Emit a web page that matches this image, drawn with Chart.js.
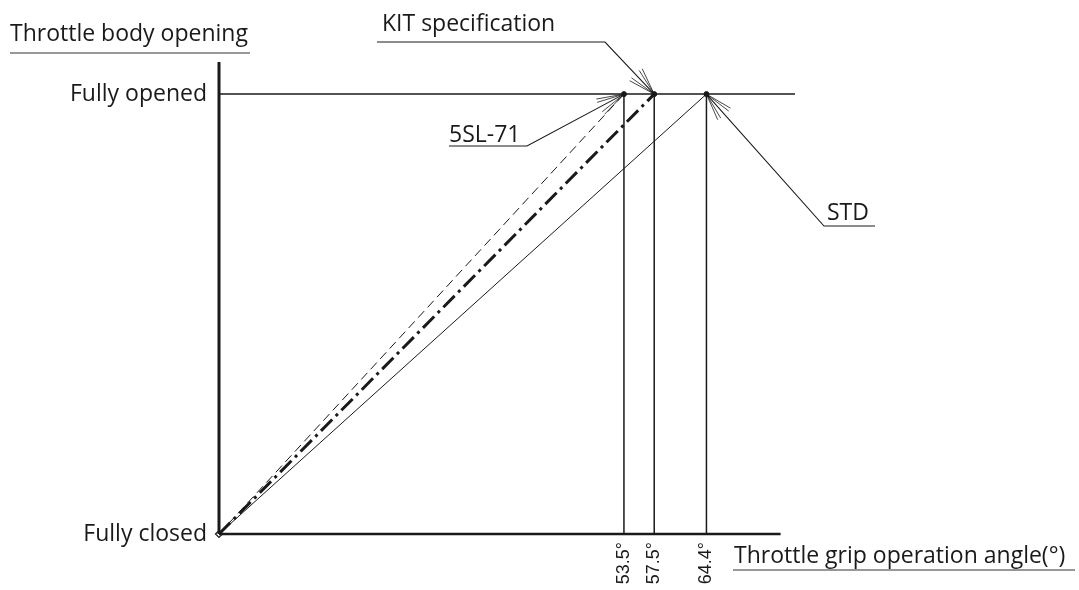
<!DOCTYPE html>
<html lang="en">
<head>
  <meta charset="UTF-8">
  <title>Throttle grip operation angle</title>
  <style>
    html, body {
      margin: 0;
      padding: 0;
      background: #fff;
    }
    #wrap {
      width: 1079px;
      height: 590px;
    }
  </style>
  <script src="https://cdn.jsdelivr.net/npm/chart.js"></script>
</head>
<body>
  <div id="wrap">
    <canvas id="chart" width="1079" height="590"></canvas>
  </div>

  <script>
    // grip angle (deg) at which the throttle body is fully opened
    const seriesNames = ['5SL-71', 'KIT specification', 'STD'];
    const fullOpenAngles = [53.5, 57.5, 64.4];
    // throttle body opening: 0 = fully closed, 1 = fully opened
    const openingLevels = [0, 1];
    const levelLabels = ['Fully closed', 'Fully opened'];
    const angleTicks = [53.5, 57.5, 64.4];

    // axis extents (deg / opening)
    const xAxisEnd = 74.2;
    const openLineEnd = 76.1;
    const yAxisTop = 1.073;

    const ink = '#1a1a1a';
    const textFont = '500 23px "Open Sans"';
    const lineStyles = [
      { borderWidth: 1, borderDash: [9, 5] },
      { borderWidth: 3, borderDash: [16, 5, 3, 5] },
      { borderWidth: 1, borderDash: [] }
    ];

    const segment = (pts, extra) => Object.assign({
      data: pts,
      showLine: true,
      borderColor: ink,
      borderWidth: 1.5,
      pointRadius: 0,
      fill: false,
      clip: false
    }, extra || {});

    const datasets = [];

    // axes and the fully opened line
    datasets.push(segment([{ x: 0, y: 0 }, { x: 0, y: yAxisTop }], { borderWidth: 3 }));
    datasets.push(segment([{ x: 0, y: 0 }, { x: xAxisEnd, y: 0 }], { borderWidth: 2.5 }));
    datasets.push(segment([{ x: 0, y: 1 }, { x: openLineEnd, y: 1 }], { borderWidth: 1.5 }));

    // drop lines from each full-open point to the angle axis
    fullOpenAngles.forEach(a => {
      datasets.push(segment([{ x: a, y: 1 }, { x: a, y: 0 }], { borderWidth: 1.5 }));
    });

    // opening characteristic of each throttle spec
    fullOpenAngles.forEach((a, i) => {
      datasets.push(segment([{ x: 0, y: openingLevels[0] }, { x: a, y: openingLevels[1] }],
        Object.assign({ label: seriesNames[i] }, lineStyles[i])));
    });

    // full-open dots
    datasets.push({
      data: fullOpenAngles.map(a => ({ x: a, y: 1 })),
      showLine: false,
      pointRadius: 2.5,
      pointBackgroundColor: ink,
      pointBorderColor: ink,
      clip: false
    });
    // origin marker
    datasets.push({
      data: [{ x: 0, y: 0 }],
      showLine: false,
      pointStyle: 'rectRot',
      pointRadius: 3.5,
      pointBackgroundColor: '#fff',
      pointBorderColor: ink,
      pointBorderWidth: 1.2,
      clip: false
    });

    // leader labels: text position, underline, then to the point of the named series
    const notes = [
      { name: 'KIT specification', tx: 382, ty: 31, from: [377, 42], elbow: [605, 42] },
      { name: '5SL-71', tx: 449, ty: 142, from: [449, 146], elbow: [527, 146] },
      { name: 'STD', tx: 827, ty: 220, from: [875, 226], elbow: [824, 226] }
    ];

    const annotations = {
      id: 'annotations',
      afterDraw(chart) {
        const ctx = chart.ctx;
        const xs = chart.scales.x;
        const ys = chart.scales.y;
        ctx.save();
        ctx.fillStyle = ink;
        ctx.strokeStyle = ink;
        ctx.font = textFont;
        ctx.textBaseline = 'alphabetic';
        ctx.textAlign = 'left';

        // axis titles
        ctx.fillText('Throttle body opening', 10, 41);
        ctx.fillText('Throttle grip operation angle(°)', 734, 563);
        ctx.lineWidth = 1.2;
        ctx.strokeStyle = '#333';
        ctx.beginPath();
        ctx.moveTo(10, 53); ctx.lineTo(250, 53);
        ctx.moveTo(733, 570); ctx.lineTo(1075, 570);
        ctx.stroke();

        ctx.strokeStyle = ink;
        notes.forEach(n => {
          const i = seriesNames.indexOf(n.name);
          const tipX = xs.getPixelForValue(fullOpenAngles[i]);
          const tipY = ys.getPixelForValue(1);
          ctx.fillText(n.name, n.tx, n.ty);

          ctx.lineWidth = 1.1;
          ctx.beginPath();
          ctx.moveTo(n.from[0], n.from[1]);
          ctx.lineTo(n.elbow[0], n.elbow[1]);
          ctx.lineTo(tipX, tipY);
          ctx.stroke();

          // open fan arrow head
          const base = Math.atan2(n.elbow[1] - tipY, n.elbow[0] - tipX);
          ctx.lineWidth = 0.8;
          ctx.beginPath();
          [-18, -11, 11, 18].forEach(d => {
            const a = base + d * Math.PI / 180;
            ctx.moveTo(tipX, tipY);
            ctx.lineTo(tipX + 28 * Math.cos(a), tipY + 28 * Math.sin(a));
          });
          ctx.stroke();
        });
        ctx.restore();
      }
    };

    Chart.defaults.font.family = '"Open Sans", sans-serif';
    Chart.defaults.color = ink;

    new Chart(document.getElementById('chart'), {
      type: 'scatter',
      data: { datasets: datasets },
      options: {
        responsive: false,
        animation: false,
        layout: {
          padding: { top: 62, right: 284, bottom: 0, left: 0 }
        },
        plugins: {
          legend: { display: false },
          tooltip: { enabled: false }
        },
        scales: {
          x: {
            type: 'linear',
            min: 0,
            max: openLineEnd,
            grid: { display: false, drawTicks: false },
            border: { display: false },
            afterBuildTicks: s => { s.ticks = angleTicks.map(v => ({ value: v })); },
            afterFit: s => { s.height = 56; },
            ticks: {
              autoSkip: false,
              minRotation: 90,
              maxRotation: 90,
              padding: 8,
              color: ink,
              font: { family: '"Liberation Sans", Arial, sans-serif', size: 18 },
              callback: v => v + '°'
            }
          },
          y: {
            type: 'linear',
            min: 0,
            max: yAxisTop,
            grid: { display: false, drawTicks: false },
            border: { display: false },
            afterBuildTicks: s => { s.ticks = openingLevels.map(v => ({ value: v })); },
            afterFit: s => { s.width = 219; },
            ticks: {
              autoSkip: false,
              padding: 12,
              color: ink,
              font: { size: 23, weight: 500 },
              callback: v => levelLabels[openingLevels.indexOf(v)]
            }
          }
        }
      },
      plugins: [annotations]
    });
  </script>
</body>
</html>
